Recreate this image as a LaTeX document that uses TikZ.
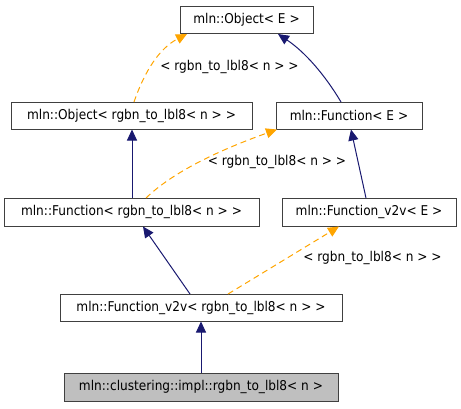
\documentclass[tikz,border=0pt]{standalone}
\usepackage{fontspec}
\setmainfont{DejaVu Sans Condensed}
\usetikzlibrary{arrows.meta}
\definecolor{edgeblue}{HTML}{191970}
\definecolor{edgeorange}{HTML}{FFA500}
\definecolor{boxline}{HTML}{404040}
\definecolor{boxgray}{HTML}{BFBFBF}
\tikzset{
  cls/.style={draw=boxline, line width=1pt, fill=white, inner sep=0pt, font=\fontsize{13.5}{16}\selectfont, anchor=center},
  inh/.style={draw=edgeblue, line width=1pt, -{Triangle[length=11pt,width=10pt]}},
  tmpl/.style={draw=edgeorange, line width=1pt, dash pattern=on 6pt off 4pt, -{Triangle[length=11pt,width=10pt]}},
  lbl/.style={font=\fontsize{13.5}{16}\selectfont, inner sep=0pt}
}
\begin{document}
\begin{tikzpicture}[x=1pt,y=-1pt]
\useasboundingbox (0,0) rectangle (461,408);
\node[cls, minimum width=133pt, minimum height=27pt] (oE) at (246.5,19.5) {mln::Object< E >};
\node[cls, minimum width=241pt, minimum height=27pt] (oR) at (131.5,115.5) {mln::Object< rgbn\_to\_lbl8< n > >};
\node[cls, minimum width=146pt, minimum height=27pt] (fE) at (349,115.5) {mln::Function< E >};
\node[cls, minimum width=255pt, minimum height=28pt] (fR) at (131.5,212) {mln::Function< rgbn\_to\_lbl8< n > >};
\node[cls, minimum width=174pt, minimum height=28pt] (vE) at (369,212) {mln::Function\_v2v< E >};
\node[cls, minimum width=282pt, minimum height=27pt] (vR) at (201,307.5) {mln::Function\_v2v< rgbn\_to\_lbl8< n > >};
\node[cls, fill=boxgray, minimum width=274pt, minimum height=28pt] (cl) at (201,387) {mln::clustering::impl::rgbn\_to\_lbl8< n >};

\coordinate (a1) at (134,102);
\coordinate (a2) at (187,34);
\draw[tmpl] (a1) .. controls (145,70) and (160,48) .. (a2);
\node[lbl] (l1) at (229.5,67) {< rgbn\_to\_lbl8< n > >};

\coordinate (b1) at (341,102);
\coordinate (b2) at (278,34);
\draw[inh] (b1) .. controls (325,75) and (305,52) .. (b2);

\draw[inh] (fR.north -| 132,0) -- (oR.south -| 132,0);

\coordinate (c1) at (146,198);
\coordinate (c2) at (277,129.5);
\draw[tmpl] (c1) .. controls (175,170) and (225,148) .. (c2);
\node[lbl] (l2) at (277,162) {< rgbn\_to\_lbl8< n > >};

\coordinate (d1) at (366,198);
\coordinate (d2) at (351,129.5);
\draw[inh] (d1) -- (d2);

\coordinate (e1) at (190,294);
\coordinate (e2) at (143,226.5);
\draw[inh] (e1) -- (e2);

\coordinate (f1) at (228,294);
\coordinate (f2) at (339,226.5);
\draw[tmpl] (f1) -- (f2);
\node[lbl] (l3) at (372.5,258) {< rgbn\_to\_lbl8< n > >};

\draw[inh] (cl.north) -- (vR.south);
\end{tikzpicture}
\end{document}
